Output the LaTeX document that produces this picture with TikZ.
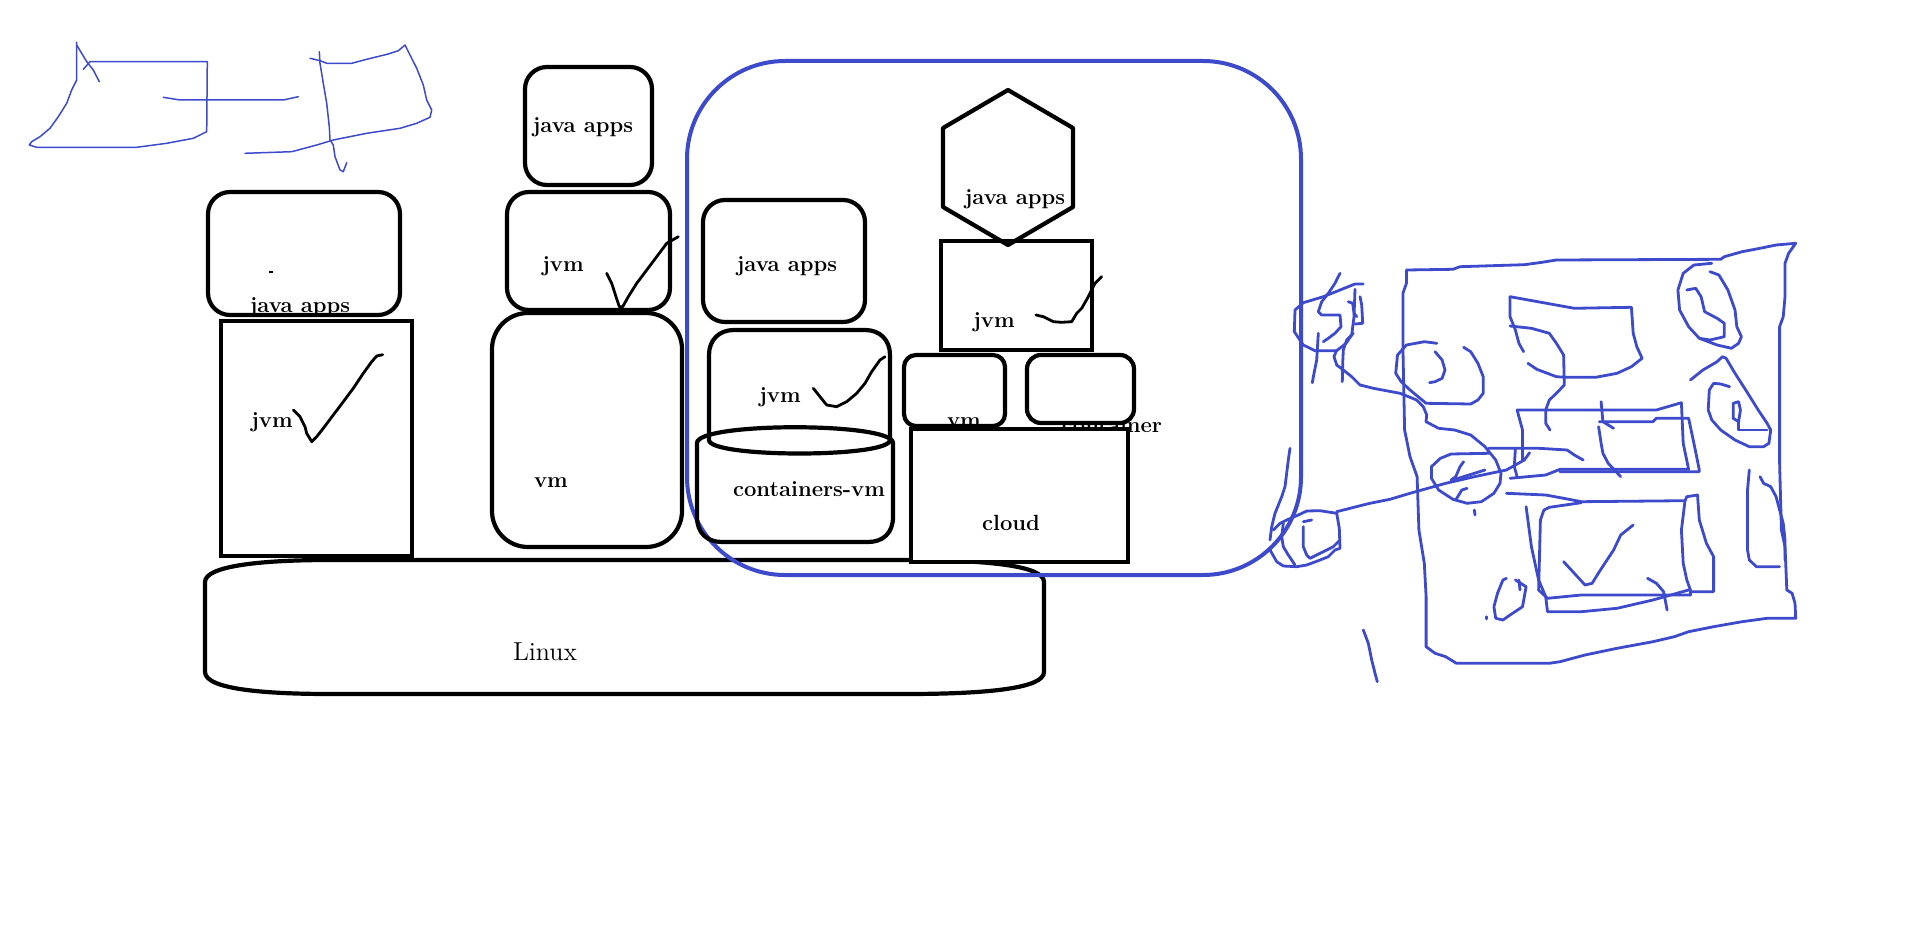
\documentclass[tikz,border=0pt]{standalone}
\definecolor{penblue}{RGB}{62,74,204}
\tikzset{
  box/.style={draw=black, line width=2.1pt},
  lbl/.style={font=\fontsize{11}{13}\selectfont\bfseries, inner sep=0pt, anchor=base},
  tick/.style={draw=black, line width=1.4pt, line cap=round, line join=round},
  scrib/.style={draw=penblue, line width=1.4pt, line cap=round, line join=round},
  thinscrib/.style={draw=penblue, line width=0.75pt, line cap=round, line join=round},
  bigblue/.style={draw=penblue, line width=2pt},
}
\begin{document}
\begin{tikzpicture}[x=0.5pt,y=-0.5pt]
\useasboundingbox (0,0) rectangle (1917,952);

% ---------- top-left thin sketch ----------
\draw[thinscrib] (76.7,42.3) -- (76.7,80) -- (71.7,90) -- (66.7,103.3) -- (58.3,116.7) -- (50,128.3) -- (40,136.7) -- (31.7,141.7) -- (29.3,145) -- (36.7,147.3) -- (136.7,147.3) -- (166.7,143.3) -- (193.3,138.3) -- (206.7,131.7) -- (207.3,61.7) -- (90,61.7) -- (83.3,69.3);
\draw[thinscrib] (76.7,45) -- (86.7,61.7) -- (93.3,70) -- (99.3,81.7);
\draw[thinscrib] (163.3,97.3) -- (180,100) -- (283.3,100) -- (298.3,96.7);
\draw[thinscrib] (310,58.3) -- (320,60.7) -- (326.7,63.3) -- (351.7,63.3) -- (366.7,59.3) -- (388.3,54) -- (398.3,50.7) -- (405,45) -- (410,55) -- (416.7,68.3) -- (423.3,85) -- (426.7,100) -- (431.7,110) -- (430,117.3) -- (416.7,123.3) -- (400,128.3) -- (366.7,133.3) -- (333.3,140) -- (316.7,145) -- (291.7,151.7) -- (245,153.3);
\draw[thinscrib] (319.3,51.7) -- (320,63.3) -- (323.3,83.3) -- (326.7,103.3) -- (329.3,126.7) -- (330,140) -- (333.3,145) -- (335,156.7) -- (340,170) -- (343.3,171.7) -- (346.7,162.7);

% ---------- Linux ----------
\draw[box] (205,582) -- (205,672) .. controls (205,690) and (270,694) .. (330,694) -- (905,694) .. controls (990,694) and (1044,688) .. (1044,672) -- (1044,582) .. controls (1044,566) and (990,560) .. (905,560) -- (330,560) .. controls (260,560) and (205,566) .. (205,582) -- cycle;
\node[font=\fontsize{13}{15}\selectfont, inner sep=0pt, anchor=base] (linux) at (545,660) {Linux};

% ---------- left column ----------
\node[lbl] (ja1) at (300,313) {java apps};
\draw[box, rounded corners=11pt] (208,192) rectangle (400,315);
\draw[line width=1pt] (269,272) -- (273,272);
\draw[box] (221,321) rectangle (412,556);
\node[lbl] (jvm1) at (272,427) {jvm};
\draw[tick] (293.3,410) -- (300,416.7) -- (305,426.7) -- (306.7,433.3) -- (311.7,441.7) -- (316.7,436.7) -- (323.3,428.3) -- (333.3,415) -- (343.3,401.7) -- (353.3,388.3) -- (363.3,373.3) -- (371.7,361.7) -- (376.7,356) -- (382.7,354.7);

% ---------- middle column ----------
\draw[box, rounded corners=11pt] (525,67) rectangle (652,185);
\node[lbl] (ja2) at (583,133) {java apps};
\draw[box, rounded corners=11pt] (507,192) rectangle (670,310);
\node[lbl] (jvm2) at (563,272) {jvm};
\draw[tick] (606.7,273.3) -- (611.7,283.3) -- (616,296.7) -- (619.3,306.7) -- (622.7,306.7) -- (628.3,296.7) -- (636.7,283.3) -- (646.7,270) -- (656.7,256.7) -- (666.7,243.3) -- (678.3,236.7);
\draw[box, rounded corners=18pt] (492,313) rectangle (682,547);
\node[lbl] (vm2) at (551,487) {vm};

% ---------- big blue frame ----------
\draw[bigblue, rounded corners=49pt] (687,61) rectangle (1301,575);

% ---------- third column ----------
\draw[box, rounded corners=11pt] (703,200) rectangle (865,322);
\node[lbl] (ja3) at (787,271) {java apps};
\draw[box] (709,440) -- (709,355) .. controls (709,340) and (719,330) .. (734,330) -- (865,330) .. controls (880,330) and (890,340) .. (890,355) -- (890,440) .. controls (890,458) and (709,458) .. (709,440) -- cycle;
\node[lbl] (jvm3) at (780,402) {jvm};
\draw[tick] (813.3,388.3) -- (820,396.7) -- (826.7,405) -- (836.7,406.7) -- (846.7,401.7) -- (856.7,393.3) -- (865,383.3) -- (871.7,371.7) -- (880,360) -- (885,356.7);
\draw[box] (697,443) .. controls (697,422) and (893,422) .. (893,443) -- (893,517) .. controls (893,533) and (883,542) .. (868,542) -- (722,542) .. controls (707,542) and (697,533) .. (697,517) -- cycle;
\node[lbl] (cvm) at (809,496) {containers-vm};

% ---------- fourth column ----------
\draw[box, line join=round] (1008,90) -- (1073,128) -- (1073,207) -- (1008,245) -- (943,207) -- (943,128) -- cycle;
\node[lbl] (ja4) at (1015,205) {java apps};
\draw[box] (941,241) rectangle (1092,350);
\node[lbl] (jvm4) at (994,328) {jvm};
\draw[tick] (1036,315) -- (1043.3,316.7) -- (1053.3,321.7) -- (1061.7,322.3) -- (1071.7,321.7) -- (1076.7,313.3) -- (1081.7,308.3) -- (1088.3,296.7) -- (1095,283.3) -- (1101.7,276.7);
\draw[box, rounded corners=6pt] (904,355) rectangle (1005,426);
\node[lbl] (vm4) at (964,427) {vm};
\node[lbl] (cont) at (1112,432) {container};
\draw[box, fill=white, rounded corners=7pt] (1027,355) rectangle (1134,423);
\draw[box, fill=white] (911,429) rectangle (1128,562);
\node[lbl] (cloud) at (1011,530) {cloud};

% ---------- right scribbles ----------
% small loop near frame
\draw[scrib] (1363.3,284) -- (1355,284) -- (1340,290) -- (1323.3,296.7) -- (1303.3,302.7) -- (1295,310) -- (1294.3,331.7) -- (1303.3,345) -- (1315,350.7) -- (1336.7,350.7) -- (1346,343.3) -- (1351.7,335) -- (1354,316.7) -- (1355,289.3);
\draw[scrib] (1340,273.3) -- (1335,283.3) -- (1328.3,293.3) -- (1321.7,301.7) -- (1318.3,311.7) -- (1321.7,315) -- (1340,315) -- (1341,326.7) -- (1335,333.3) -- (1328.3,338.3) -- (1323.3,341.7);
\draw[scrib] (1318.3,333.3) -- (1316.7,360) -- (1314,373.3) -- (1312.3,382.7);
\draw[scrib] (1348.3,301.7) -- (1352.7,303.3) -- (1354,313.3) -- (1356.7,316.7);
\draw[scrib] (1360,296.7) -- (1361.7,305) -- (1362.7,323.3) -- (1355,324);
\draw[scrib] (1353.3,333.3) -- (1346.7,340) -- (1343.3,350) -- (1342.7,363.3) -- (1342.3,381.7);
% long stroke into circle
\draw[scrib] (1336.7,350) -- (1334,356.7) -- (1336.7,365) -- (1343.3,370) -- (1351.7,376.7) -- (1360,385) -- (1373.3,388.3) -- (1400,393.3) -- (1416.7,400) -- (1423.3,406.7) -- (1426.7,415) -- (1426,421.7) -- (1438.6,428.3) -- (1454.6,430) -- (1470.7,435) -- (1485,446.7) -- (1495.7,460) -- (1501,473.3) -- (1500,483.3) -- (1493.9,493.3) -- (1481.4,501.7) -- (1467.1,503.3) -- (1452.9,499.3) -- (1438.6,490) -- (1431.4,478.3) -- (1431.4,466.7) -- (1440.4,458.3) -- (1451.1,454) -- (1488.6,453.3);
\draw[scrib] (1463.6,461.7) -- (1460,466.7) -- (1455.7,476.7) -- (1451.1,480);
\draw[scrib] (1452.9,480) -- (1485,470);
\draw[scrib] (1467.1,488.3) -- (1461.8,490) -- (1455.7,500);
\draw[scrib] (1474.3,510) -- (1475,515);
% long diagonal
\draw[scrib] (1336.7,511.7) -- (1350,508.3) -- (1370,503.3) -- (1390,499.3) -- (1410,493.3) -- (1445.7,483.3) -- (1474.3,476.7) -- (1506.4,470) -- (1524.3,460) -- (1529.6,452.7);
% small circle bottom-left
\draw[scrib] (1270,550) -- (1276.7,561.7) -- (1283.3,566) -- (1296.7,566.7) -- (1306.7,565) -- (1318.3,560.7) -- (1328.3,556.7) -- (1335,550) -- (1340,548.3) -- (1339.3,528.3) -- (1336.7,513.3) -- (1320,510.7) -- (1306.7,511) -- (1298.3,515) -- (1286.7,520) -- (1280,523.3) -- (1273.3,530);
\draw[scrib] (1283.3,523.3) -- (1281.7,536.7) -- (1283.3,546.7) -- (1288.3,555) -- (1295,565);
\draw[scrib] (1303.3,521.7) -- (1311.7,520);
\draw[scrib] (1303.3,526.7) -- (1303.3,546.7) -- (1306.7,555) -- (1310,558.3) -- (1320,553.3) -- (1333.3,546.7) -- (1340,540);
\draw[scrib] (1290,448.3) -- (1288.3,460) -- (1285,486.7) -- (1281.7,496.7) -- (1275,513.3) -- (1271.7,526.7) -- (1270,540);
\draw[scrib] (1363.3,630) -- (1368.3,643.3) -- (1371.7,660) -- (1375,673.3) -- (1377.3,681.7);
% big square
\draw[scrib] (1406.4,270) -- (1406.4,283.3) -- (1402.9,293.3) -- (1402.9,346.7) -- (1404.6,430) -- (1410,456.7) -- (1417.1,476.7) -- (1418.9,530) -- (1424.3,563.3) -- (1426.1,596.7) -- (1426.1,646.7) -- (1435,653.3) -- (1445.7,656.7) -- (1456.4,663.3) -- (1549.3,663.3) -- (1560,661.7) -- (1585,655) -- (1617.1,648.3) -- (1652.9,641.7) -- (1674.3,636.7) -- (1688.6,631.7) -- (1713.6,626.7) -- (1742.1,621.7) -- (1767.1,618.3) -- (1795.7,618.3) -- (1795,603.3) -- (1792.1,593.3) -- (1786.8,590) -- (1785.7,563.3) -- (1785,546.7) -- (1781.4,530) -- (1779.6,463.3) -- (1779.6,326.7) -- (1783.2,316.7) -- (1785,296.7) -- (1785,263.3) -- (1788.6,253.3) -- (1795.7,243.3) -- (1776.1,245) -- (1760,248.3) -- (1742.1,251.7) -- (1724.3,256.7) -- (1720.7,259.3) -- (1556.4,260) -- (1542.1,262.3) -- (1524.3,264.7) -- (1460,266.7) -- (1452.9,269.3) -- (1406.4,270);
% top-middle shape
\draw[scrib] (1510,296.7) -- (1574.3,308.3) -- (1631.4,307.3) -- (1633.2,333.3) -- (1636.8,346.7) -- (1642.1,358.3) -- (1631.4,366.7) -- (1617.1,373.3) -- (1595.7,377.3) -- (1565.4,377.3) -- (1556.4,376.7) -- (1536.8,369.3) -- (1527.9,363.3);
\draw[scrib] (1510,296.7) -- (1510,316.7) -- (1515.4,330) -- (1518.9,343.3) -- (1523.6,351.7);
\draw[scrib] (1510,326) -- (1531.4,328.3) -- (1549.3,333.3) -- (1556.4,343.3) -- (1563.6,355) -- (1564.3,385) -- (1556.4,393.3) -- (1549.3,400) -- (1545.7,410) -- (1545.7,423.3) -- (1550,430);
% left loop in square
\draw[scrib] (1436.8,343.3) -- (1424.3,341.7) -- (1406.4,345) -- (1397.5,355) -- (1395.7,373.3) -- (1401.1,381.7) -- (1410,390) -- (1426.1,403.3) -- (1470.7,404) -- (1477.9,400) -- (1483.2,393.3) -- (1483.2,376.7) -- (1477.9,363.3) -- (1470.7,351.7) -- (1463.6,347.3);
\draw[scrib] (1435,351.7) -- (1442.1,360) -- (1445,370) -- (1442.1,378.3) -- (1435,381.7) -- (1429.6,382.7);
% middle rectangles
\draw[scrib] (1522.5,460) -- (1522.5,430) -- (1517.1,410) -- (1656.4,410) -- (1681.4,402.7) -- (1683.2,443.3) -- (1688.6,469.3) -- (1560,469.3) -- (1545.7,475) -- (1510,478.3);
\draw[scrib] (1599.3,421.7) -- (1652.9,421.7) -- (1656.4,418.3) -- (1688.6,418.3) -- (1693.9,443.3) -- (1699.3,470) -- (1699.3,471.7) -- (1560,471.7);
\draw[scrib] (1601.1,401.7) -- (1602.9,421.7) -- (1613.6,428.3);
\draw[scrib] (1598.6,426.7) -- (1601.1,443.3) -- (1602.9,453.3) -- (1608.2,463.3) -- (1620.7,476.7);
\draw[scrib] (1488.6,448.3) -- (1538.6,448.3) -- (1567.1,450) -- (1574.3,455) -- (1583.2,460);
\draw[scrib] (1515.4,448.3) -- (1514.3,466.7) -- (1517.1,476.7);
% bottom rectangles
\draw[scrib] (1506.4,493.3) -- (1545.7,495) -- (1563.6,498.3) -- (1581.4,501.7) -- (1685,500.7) -- (1686.8,496.7) -- (1697.5,495) -- (1699.3,520) -- (1706.4,543.3) -- (1713.6,556.7) -- (1713.6,591.7) -- (1690.4,591.7);
\draw[scrib] (1685,500.7) -- (1681.4,530) -- (1683.2,563.3) -- (1686.8,580) -- (1690.4,590) -- (1690.4,595);
\draw[scrib] (1581.4,502.7) -- (1549.3,507.3) -- (1543.9,510) -- (1540.4,520) -- (1539.3,563.3) -- (1538.6,590) -- (1547.5,598.3) -- (1581.4,595) -- (1690.4,595);
\draw[scrib] (1526.1,506.7) -- (1531.4,546.7) -- (1538.6,580) -- (1545.7,596.7) -- (1547.5,611.7) -- (1581.4,611.7) -- (1617.1,608.3) -- (1652.9,600) -- (1688.6,590);
\draw[scrib] (1563.6,561.7) -- (1574.3,573.3) -- (1585,585) -- (1592.1,583.3) -- (1599.3,571.7) -- (1613.6,550) -- (1620.7,535) -- (1633.2,525);
\draw[scrib] (1647.5,578.3) -- (1656.4,583.3) -- (1663.6,591.7) -- (1667.1,610);
% small blob
\draw[scrib] (1506.4,578.3) -- (1502.9,580) -- (1497.5,593.3) -- (1493.9,606.7) -- (1495.7,618.3) -- (1502.9,620) -- (1510,615) -- (1522.5,606.7) -- (1524.3,596.7) -- (1526.1,586.7) -- (1520.7,583.3) -- (1515.4,580);
\draw[scrib] (1518.9,580) -- (1520,590);
\draw[scrib] (1486.8,616.7) -- (1486.8,619);
% top-right loop
\draw[scrib] (1711.8,263.3) -- (1693.9,265) -- (1683.2,273.3) -- (1677.9,290) -- (1679.6,310) -- (1688.6,326.7) -- (1699.3,338.3) -- (1717.1,345) -- (1731.4,348.3) -- (1738.6,343.3) -- (1741.4,336.7) -- (1736.8,326.7) -- (1735,310) -- (1727.9,290) -- (1718.9,275) -- (1710,271.7);
\draw[scrib] (1686.8,290) -- (1695.7,288.3) -- (1701.1,296.7) -- (1704.6,311.7) -- (1717.1,318.3) -- (1724.3,323.3) -- (1724.3,336.7) -- (1710,340) -- (1699.3,338.3);
% right middle shape
\draw[scrib] (1690.4,380) -- (1702.9,370) -- (1717.1,361.7) -- (1722.5,356.7) -- (1726.1,358.3) -- (1735,373.3) -- (1745.7,390) -- (1758.2,410) -- (1767.1,423.3) -- (1770.7,430) -- (1768.9,443.3) -- (1763.6,446.7) -- (1749.3,446.7) -- (1735,440) -- (1720.7,430) -- (1711.8,420) -- (1708.2,410) -- (1709.3,390) -- (1713.6,383.3) -- (1720.7,384) -- (1729.6,386.7);
\draw[scrib] (1738.6,401.7) -- (1733.2,403.3) -- (1733.2,418.3) -- (1738.6,421.7) -- (1740.4,410) -- (1738.6,401.7);
\draw[scrib] (1738.6,421.7) -- (1738.6,430) -- (1767.1,430);
% right bottom shape
\draw[scrib] (1749.3,470) -- (1747.5,490) -- (1747.5,550) -- (1749.3,560) -- (1756.4,566.7) -- (1779.6,566.7);
\draw[scrib] (1760,476.7) -- (1763.6,483.3) -- (1770.7,486.7) -- (1776.1,496.7) -- (1779.6,510) -- (1783.2,523.3) -- (1785,540) -- (1785,560);
\end{tikzpicture}
\end{document}
